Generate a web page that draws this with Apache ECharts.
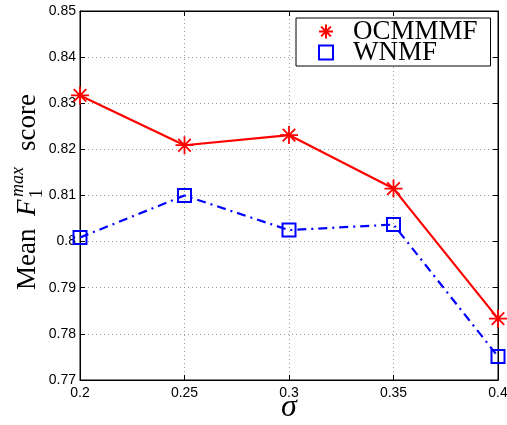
<!DOCTYPE html>
<html>
<head>
<meta charset="utf-8">
<script src="https://cdn.jsdelivr.net/npm/echarts@6/dist/echarts.min.js"></script>
<style>html,body{margin:0;padding:0;background:#fff}#c{width:507px;height:425px}</style>
</head>
<body>
<div id="c"></div>
<script>
var sigma = [0.2, 0.25, 0.3, 0.35, 0.4];
var ocmmmf = [0.8317, 0.8209, 0.8231, 0.8115, 0.7833];
var wnmf = [0.8009, 0.8100, 0.8025, 0.8037, 0.7751];
var seriesNames = ['OCMMMF', 'WNMF'];
var yTicks = {min: 0.77, max: 0.85, interval: 0.01};
var xTicks = {min: 0.2, max: 0.4, interval: 0.05};

var asterisk = 'path://M10 0L10 20M0 10L20 10M3 3L17 17M3 17L17 3';
function pairs(xs, ys) { return xs.map(function (x, i) { return [x, ys[i]]; }); }

var chart = echarts.init(document.getElementById('c'));
var serif = 'Liberation Serif';
var sans = 'Liberation Sans';
var gridLine = {show: true, lineStyle: {color: '#9a9a9a', type: [1, 3], width: 1}};
var tick = {show: true, inside: true, length: 5, lineStyle: {color: '#000'}};

chart.setOption({
  animation: false,
  backgroundColor: '#fff',
  grid: {left: 80, right: 9, top: 11, bottom: 45, show: true, borderColor: '#000', borderWidth: 1,
         containLabel: false, outerBoundsMode: 'none'},
  xAxis: [{
    type: 'value', min: xTicks.min, max: xTicks.max, interval: xTicks.interval,
    axisLine: {show: true, lineStyle: {color: '#000'}},
    axisTick: tick, splitLine: gridLine,
    axisLabel: {color: '#000', fontFamily: sans, fontSize: 14, margin: 6},
    name: 'σ', nameLocation: 'middle', nameGap: 28, nameMoveOverlap: false,
    nameTextStyle: {fontFamily: serif, fontStyle: 'italic', fontSize: 32, color: '#000', verticalAlign: 'middle'}
  }, {
    type: 'value', position: 'top', min: xTicks.min, max: xTicks.max, interval: xTicks.interval,
    axisLine: {show: true, lineStyle: {color: '#000'}}, axisTick: tick,
    axisLabel: {show: false}, splitLine: {show: false}
  }],
  yAxis: [{
    type: 'value', min: yTicks.min, max: yTicks.max, interval: yTicks.interval,
    axisLine: {show: true, lineStyle: {color: '#000'}},
    axisTick: tick, splitLine: gridLine,
    axisLabel: {color: '#000', fontFamily: sans, fontSize: 14, margin: 4}
  }, {
    type: 'value', position: 'right', min: yTicks.min, max: yTicks.max, interval: yTicks.interval,
    axisLine: {show: true, lineStyle: {color: '#000'}}, axisTick: tick,
    axisLabel: {show: false}, splitLine: {show: false}
  }],
  legend: {
    orient: 'vertical', left: 296, top: 18,
    padding: [0, 13, 0, 22], itemGap: -6, itemWidth: 14, itemHeight: 14,
    borderColor: '#000', borderWidth: 1, backgroundColor: '#fff',
    textStyle: {fontFamily: serif, fontSize: 27, color: '#000', lineHeight: 19, padding: [0, 0, 0, 15]},
    data: [
      {name: seriesNames[0], icon: asterisk, itemStyle: {color: 'rgba(0,0,0,0)', borderColor: '#ff0000', borderWidth: 2}},
      {name: seriesNames[1], icon: 'rect', itemStyle: {color: 'rgba(0,0,0,0)', borderColor: '#0000ff', borderWidth: 2}}
    ]
  },
  series: [{
    name: seriesNames[0], type: 'line', data: pairs(sigma, ocmmmf),
    symbol: asterisk, symbolSize: 18, showAllSymbol: true,
    lineStyle: {color: '#ff0000', width: 2.2},
    itemStyle: {color: 'rgba(0,0,0,0)', borderColor: '#ff0000', borderWidth: 1.8}, z: 3
  }, {
    name: seriesNames[1], type: 'line', data: pairs(sigma, wnmf),
    symbol: 'rect', symbolSize: 13, showAllSymbol: true,
    lineStyle: {color: '#0000ff', width: 2.2, type: [9, 5, 2, 5]},
    itemStyle: {color: 'rgba(0,0,0,0)', borderColor: '#0000ff', borderWidth: 2}, z: 2
  }],
  graphic: [{
    type: 'group', x: 28, y: 191, rotation: Math.PI / 2,
    children: [
      {type: 'text', x: -99, y: 0, style: {text: 'Mean', font: '27px "Liberation Serif"', fill: '#000', verticalAlign: 'middle', align: 'left'}},
      {type: 'text', x: -25, y: 0, style: {text: 'F', font: 'italic 27px "Liberation Serif"', fill: '#000', verticalAlign: 'middle', align: 'left'}},
      {type: 'text', x: -6, y: -10, style: {text: 'max', font: 'italic 18px "Liberation Serif"', fill: '#000', verticalAlign: 'middle', align: 'left'}},
      {type: 'text', x: -7, y: 9, style: {text: '1', font: '18px "Liberation Serif"', fill: '#000', verticalAlign: 'middle', align: 'left'}},
      {type: 'text', x: 40, y: 0, style: {text: 'score', font: '27px "Liberation Serif"', fill: '#000', verticalAlign: 'middle', align: 'left'}}
    ]
  }]
});
</script>
</body>
</html>
